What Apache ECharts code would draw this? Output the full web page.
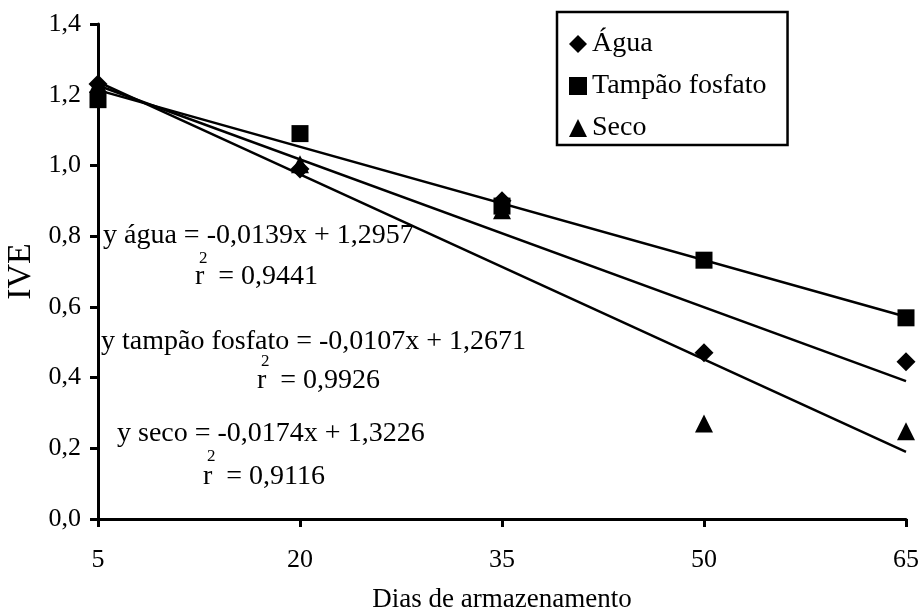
<!DOCTYPE html>
<html>
<head>
<meta charset="utf-8">
<script src="https://cdn.jsdelivr.net/npm/echarts@6/dist/echarts.min.js"></script>
<style>
  html, body { margin: 0; padding: 0; background: #fff; }
  #main { width: 923px; height: 616px; }
</style>
</head>
<body>
<div id="main"></div>
<script>
const dias = ['5', '20', '35', '50', '65'];
const agua = [1.23, 0.99, 0.90, 0.47, 0.445];
const tampao = [1.186, 1.09, 0.885, 0.732, 0.569];
const seco = [1.23, 1.003, 0.873, 0.27, 0.248];

// trend line ends (x = 5 and x = 65)
const trendX = ['5', '65'];
const trendAgua = [1.226, 0.39];
const trendTampao = [1.213, 0.572];
const trendSeco = [1.236, 0.19];

const yTicks = { min: 0, max: 1.4, interval: 0.2 };

const FONT = 'Liberation Serif';

function pairs(xs, ys) {
  return xs.map((x, i) => [x, ys[i]]);
}

function trendSeries(values) {
  return {
    type: 'line',
    data: pairs(trendX, values),
    symbol: 'none',
    lineStyle: { color: '#000', width: 2.5 },
    silent: true,
    z: 2
  };
}

function pointSeries(name, symbol, values, size) {
  return {
    name: name,
    type: 'scatter',
    data: values,
    symbol: symbol,
    symbolSize: size,
    itemStyle: { color: '#000', opacity: 1 },
    z: 3
  };
}

function txt(x, y, text, size) {
  return {
    type: 'text', x: x, y: y, z: 10,
    style: {
      text: text, font: size + 'px "' + FONT + '"', fill: '#000',
      align: 'left', verticalAlign: 'middle'
    }
  };
}

const chart = echarts.init(document.getElementById('main'));

chart.setOption({
  backgroundColor: '#fff',
  animation: false,
  textStyle: { fontFamily: FONT, color: '#000' },
  grid: { left: 98, right: 17, top: 24, bottom: 97, containLabel: false, outerBoundsMode: 'none' },
  legend: {
    orient: 'vertical',
    left: 557,
    top: 12,
    padding: [18, 21, 3, 12],
    itemGap: 14,
    itemWidth: 18,
    itemHeight: 18,
    borderColor: '#000',
    borderWidth: 2.5,
    data: [
      { name: 'Água', icon: 'diamond' },
      { name: 'Tampão fosfato', icon: 'rect' },
      { name: 'Seco', icon: 'triangle' }
    ],
    textStyle: { fontFamily: FONT, fontSize: 28, color: '#000' },
    itemStyle: { color: '#000', opacity: 1 }
  },
  xAxis: {
    type: 'category',
    data: dias,
    boundaryGap: false,
    name: 'Dias de armazenamento',
    nameLocation: 'middle',
    nameGap: 67,
    nameTextStyle: { fontFamily: FONT, fontSize: 27, color: '#000' },
    axisLine: { lineStyle: { color: '#000', width: 3 } },
    axisTick: { show: true, length: 8, lineStyle: { color: '#000', width: 3 } },
    axisLabel: { fontFamily: FONT, fontSize: 26, color: '#000', margin: 28 },
    splitLine: { show: false }
  },
  yAxis: {
    type: 'value',
    min: yTicks.min,
    max: yTicks.max,
    interval: yTicks.interval,
    name: 'IVE',
    nameLocation: 'middle',
    nameGap: 56,
    nameRotate: 90,
    nameTextStyle: { fontFamily: FONT, fontSize: 34, color: '#000' },
    axisLine: { show: true, lineStyle: { color: '#000', width: 3 } },
    axisTick: { show: true, length: 8, lineStyle: { color: '#000', width: 3 } },
    axisLabel: {
      fontFamily: FONT, fontSize: 26, color: '#000', margin: 17,
      formatter: v => v.toFixed(1).replace('.', ',')
    },
    splitLine: { show: false }
  },
  series: [
    trendSeries(trendAgua),
    trendSeries(trendTampao),
    trendSeries(trendSeco),
    pointSeries('Seco', 'triangle', seco, 18),
    pointSeries('Tampão fosfato', 'rect', tampao, 17),
    pointSeries('Água', 'diamond', agua, 19)
  ],
  graphic: [
    txt(103, 236, 'y água = -0,0139x + 1,2957', 28),
    txt(199, 259, '2', 17),
    txt(195, 277, 'r  = 0,9441', 28),
    txt(101, 342, 'y tampão fosfato = -0,0107x + 1,2671', 28),
    txt(261, 362, '2', 17),
    txt(257, 381, 'r  = 0,9926', 28),
    txt(117, 434, 'y seco = -0,0174x + 1,3226', 28),
    txt(207, 457, '2', 17),
    txt(203, 477, 'r  = 0,9116', 28)
  ]
});
</script>
</body>
</html>
